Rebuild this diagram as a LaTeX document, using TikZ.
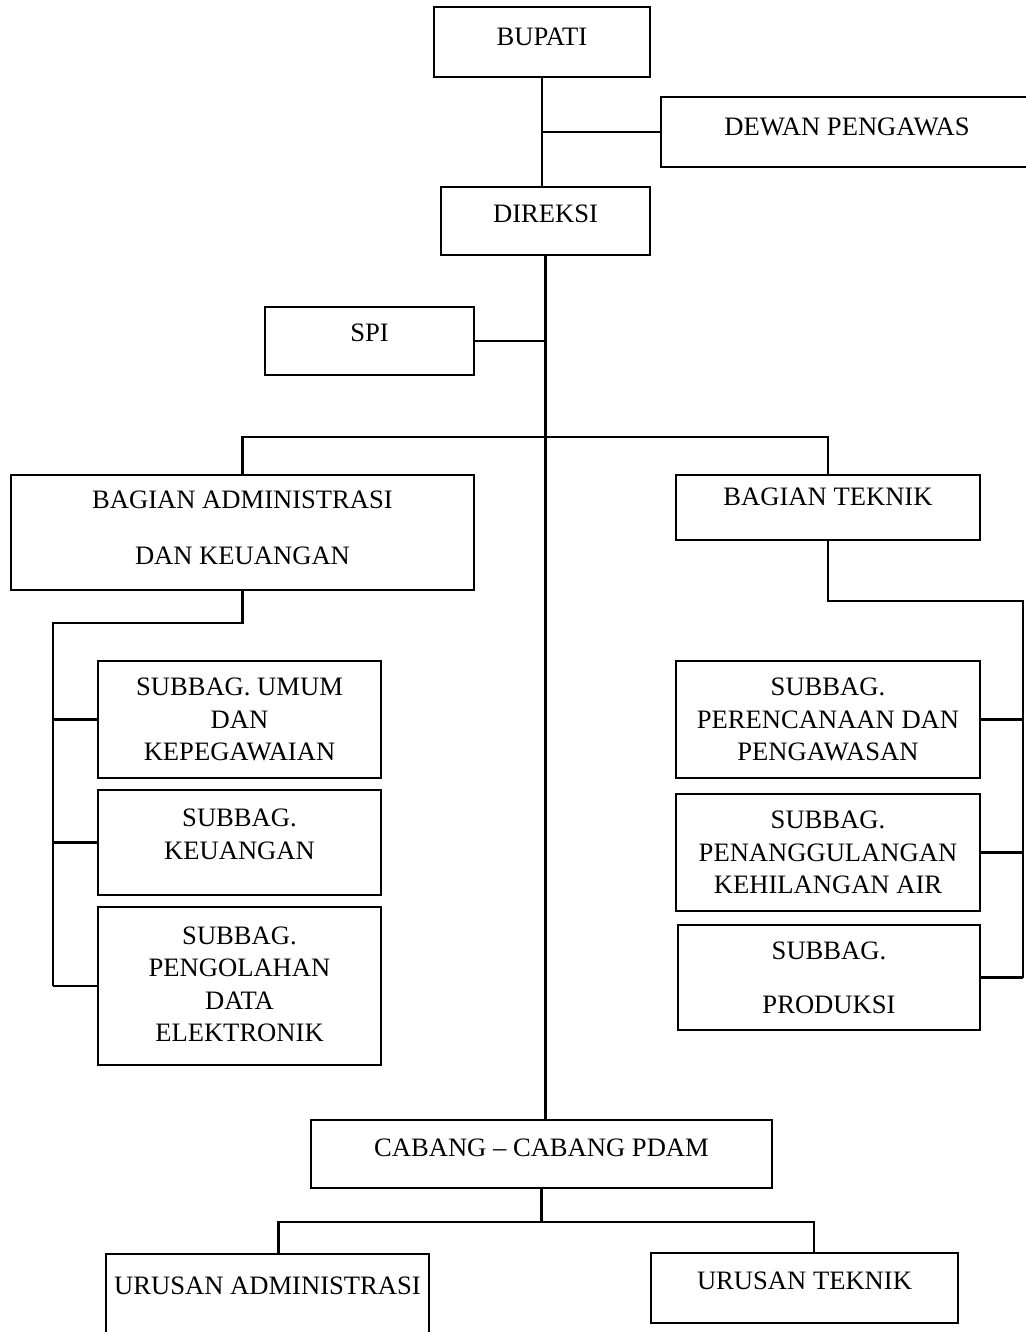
\documentclass[tikz,border=0pt]{standalone}
\usepackage{fontspec}
\setmainfont{Liberation Serif}

\begin{document}
\begin{tikzpicture}[x=0.5pt, y=-0.5pt]
  \tikzstyle{box} = [rectangle, draw, line width=1.1pt, align=center, inner sep=0pt,
      font=\fontsize{13.3}{16.25}\selectfont]
  \tikzstyle{line} = [draw, line width=1.1pt]
  \useasboundingbox (0,0) rectangle (1026,1332);
  \clip (0,0) rectangle (1026,1332);
      % Place nodes
      \node [box, minimum width=108pt, minimum height=35pt, text depth=5pt] (bupati) at (542,42) {BUPATI};
      \node [box, minimum width=186pt, minimum height=35pt, text depth=5pt] (dewan) at (847,132) {DEWAN PENGAWAS};
      \node [box, minimum width=104.5pt, minimum height=34pt, text depth=7pt] (direksi) at (545.5,221) {DIREKSI};
      \node [box, minimum width=104.5pt, minimum height=34pt, text depth=8pt] (spi) at (369.5,341) {SPI};
      \node [box, minimum width=231.5pt, minimum height=57.5pt, text depth=4.5pt] (adm) at (242.5,532.5) {BAGIAN ADMINISTRASI\\[11.75pt] DAN KEUANGAN};
      \node [box, minimum width=152pt, minimum height=32.5pt, text depth=10.5pt] (teknik) at (828,507.5) {BAGIAN TEKNIK};
      \node [box, minimum width=141.5pt, minimum height=58.5pt] (umum) at (239.5,719.5) {SUBBAG. UMUM\\ DAN\\ KEPEGAWAIAN};
      \node [box, minimum width=141.5pt, minimum height=52.5pt, text depth=8.5pt] (keu) at (239.5,842.5) {SUBBAG.\\ KEUANGAN};
      \node [box, minimum width=141.5pt, minimum height=79pt, text depth=2pt] (pde) at (239.5,986) {SUBBAG.\\ PENGOLAHAN\\ DATA\\ ELEKTRONIK};
      \node [box, minimum width=152pt, minimum height=58.5pt] (rencana) at (828,719.5) {SUBBAG.\\ PERENCANAAN DAN\\ PENGAWASAN};
      \node [box, minimum width=152pt, minimum height=58.5pt] (tanggul) at (828,852.5) {SUBBAG.\\ PENANGGULANGAN\\ KEHILANGAN AIR};
      \node [box, minimum width=151pt, minimum height=52.5pt] (produksi) at (829,977.5) {SUBBAG.\\[10.75pt] PRODUKSI};
      \node [box, minimum width=230.5pt, minimum height=34pt, text depth=6pt] (cabang) at (541.5,1154) {CABANG -- CABANG PDAM};
      \node [box, minimum width=161.5pt, minimum height=48pt, text depth=16pt] (uadm) at (267.5,1302) {URUSAN ADMINISTRASI};
      \node [box, minimum width=153.5pt, minimum height=35pt, text depth=7pt] (uteknik) at (804.5,1288) {URUSAN TEKNIK};

      \coordinate (bar) at (0,437);
      \coordinate (admspine) at (53,623);
      \coordinate (tekspine) at (1023,601);
      \coordinate (cabbar) at (0,1222);

  %paths
      \path [line] (bupati.south) -- (bupati.south |- direksi.north);
      \path [line] (bupati.south |- dewan.west) -- (dewan.west);
      \path [line] (direksi.south) -- (direksi.south |- cabang.north);
      \path [line] (spi.east) -- (spi.east -| direksi.south);
      \path [line] (adm.north) -- (adm.north |- bar) -- (teknik.north |- bar) -- (teknik.north);
      \path [line] (adm.south) |- (admspine) -- (admspine |- pde.west);
      \foreach \sub in {umum, keu, pde}
        \path [line] (admspine |- \sub.west) -- (\sub.west);
      \path [line] (teknik.south) |- (tekspine) -- (tekspine |- produksi.east);
      \foreach \sub in {rencana, tanggul, produksi}
        \path [line] (tekspine |- \sub.east) -- (\sub.east);
      \path [line] (cabang.south) -- (cabang.south |- cabbar);
      \path [line] ([xshift=5.5pt]uadm.north) -- ([xshift=5.5pt]uadm.north |- cabbar)
        -- ([xshift=4.75pt]uteknik.north |- cabbar) -- ([xshift=4.75pt]uteknik.north);

  \end{tikzpicture}
\end{document}
